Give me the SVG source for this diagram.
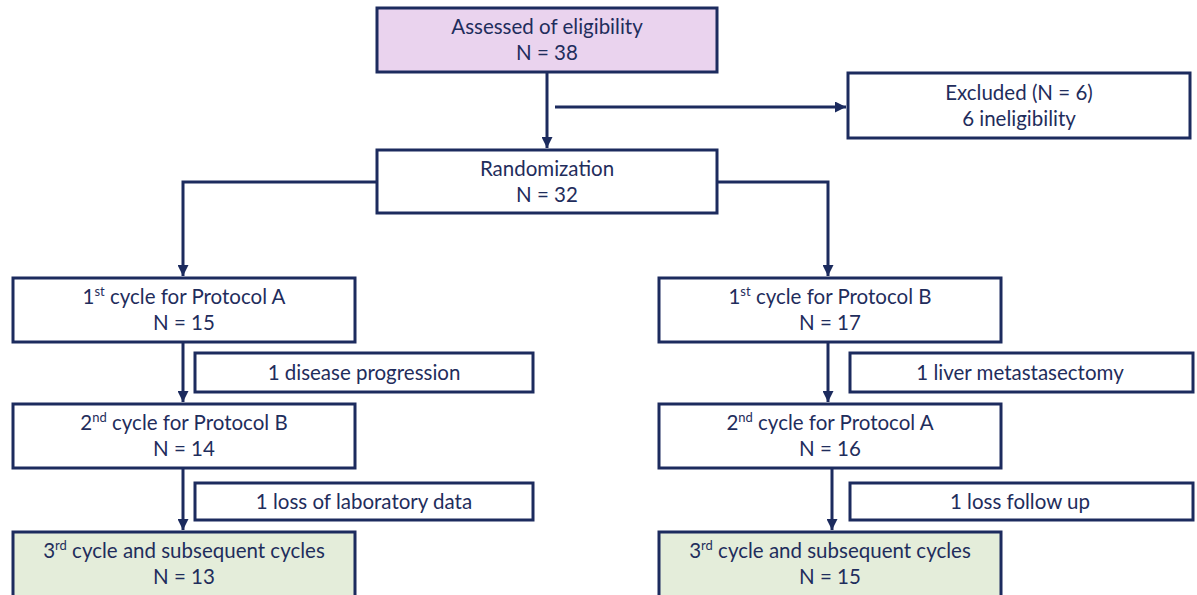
<svg xmlns="http://www.w3.org/2000/svg" width="1197" height="595" viewBox="0 0 1197 595">
<defs>
<marker id="ah" viewBox="0 0 10 10" refX="10" refY="5" markerWidth="11" markerHeight="11" markerUnits="userSpaceOnUse" orient="auto">
<path d="M0,0 L10,5 L0,10 z" fill="#1C2B5E"/>
</marker>
</defs>
<style>
.box{fill:#ffffff;stroke:#1C2B5E;stroke-width:3}
.purple{fill:#EAD3EE}
.green{fill:#E4EDDA}
text{font-family:Lato,"Open Sans","Liberation Sans",sans-serif;font-size:20.5px;fill:#1F2D5C;text-anchor:middle}
.sup{font-size:13px}
.c{fill:none;stroke:#1C2B5E;stroke-width:3}
</style>
<rect width="1197" height="595" fill="#ffffff"/>
<g id="connectors">
<line class="c" x1="547" y1="72" x2="547" y2="148" marker-end="url(#ah)"/>
<line class="c" x1="555" y1="107" x2="846" y2="107" marker-end="url(#ah)"/>
<polyline class="c" points="377,182 183,182 183,276" marker-end="url(#ah)"/>
<polyline class="c" points="717,182 828,182 828,276" marker-end="url(#ah)"/>
<line class="c" x1="183" y1="342" x2="183" y2="402" marker-end="url(#ah)"/>
<line class="c" x1="183" y1="468" x2="183" y2="530" marker-end="url(#ah)"/>
<line class="c" x1="828" y1="342" x2="828" y2="402" marker-end="url(#ah)"/>
<line class="c" x1="832" y1="468" x2="832" y2="530" marker-end="url(#ah)"/>
</g>
<g id="assessed">
<rect class="box purple" x="377" y="8" width="340" height="64"/>
<text x="547" y="34">Assessed of eligibility</text>
<text x="547" y="60">N = 38</text>
</g>
<g id="excluded">
<rect class="box" x="848" y="73" width="342" height="65"/>
<text x="1019" y="100">Excluded (N = 6)</text>
<text x="1019" y="126">6 ineligibility</text>
</g>
<g id="randomization">
<rect class="box" x="377" y="150" width="340" height="63"/>
<text x="547" y="176">Randomization</text>
<text x="547" y="202">N = 32</text>
</g>
<g id="a1">
<rect class="box" x="13" y="278" width="342" height="64"/>
<text x="184" y="304">1<tspan class="sup" dy="-8">st</tspan><tspan dy="8"> cycle for Protocol A</tspan></text>
<text x="184" y="330">N = 15</text>
</g>
<g id="a-drop1">
<rect class="box" x="195" y="353" width="338" height="39"/>
<text x="364" y="380">1 disease progression</text>
</g>
<g id="a2">
<rect class="box" x="13" y="404" width="342" height="64"/>
<text x="184" y="430">2<tspan class="sup" dy="-8">nd</tspan><tspan dy="8"> cycle for Protocol B</tspan></text>
<text x="184" y="456">N = 14</text>
</g>
<g id="a-drop2">
<rect class="box" x="195" y="483" width="338" height="37"/>
<text x="364" y="509">1 loss of laboratory data</text>
</g>
<g id="a3">
<rect class="box green" x="13" y="532" width="342" height="70"/>
<text x="184" y="558">3<tspan class="sup" dy="-8">rd</tspan><tspan dy="8"> cycle and subsequent cycles</tspan></text>
<text x="184" y="584">N = 13</text>
</g>
<g id="b1">
<rect class="box" x="659" y="278" width="342" height="64"/>
<text x="830" y="304">1<tspan class="sup" dy="-8">st</tspan><tspan dy="8"> cycle for Protocol B</tspan></text>
<text x="830" y="330">N = 17</text>
</g>
<g id="b-drop1">
<rect class="box" x="850" y="353" width="343" height="39"/>
<text x="1020" y="380">1 liver metastasectomy</text>
</g>
<g id="b2">
<rect class="box" x="659" y="404" width="342" height="64"/>
<text x="830" y="430">2<tspan class="sup" dy="-8">nd</tspan><tspan dy="8"> cycle for Protocol A</tspan></text>
<text x="830" y="456">N = 16</text>
</g>
<g id="b-drop2">
<rect class="box" x="850" y="483" width="343" height="37"/>
<text x="1020" y="509">1 loss follow up</text>
</g>
<g id="b3">
<rect class="box green" x="659" y="532" width="342" height="70"/>
<text x="830" y="558">3<tspan class="sup" dy="-8">rd</tspan><tspan dy="8"> cycle and subsequent cycles</tspan></text>
<text x="830" y="584">N = 15</text>
</g>
</svg>
